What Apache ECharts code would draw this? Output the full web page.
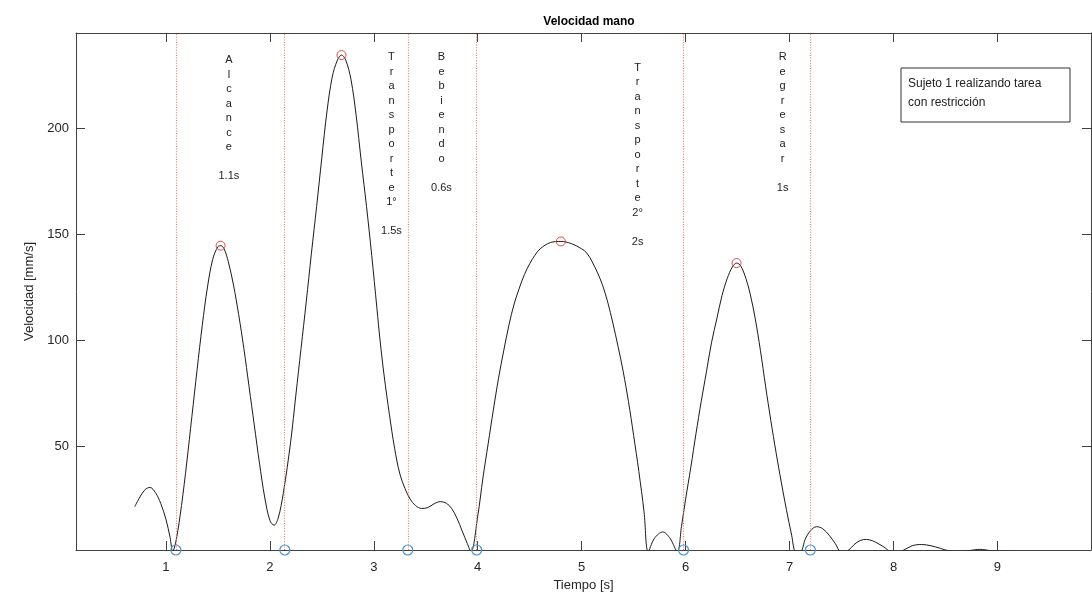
<!DOCTYPE html>
<html>
<head>
<meta charset="utf-8">
<script src="https://cdn.jsdelivr.net/npm/echarts@6/dist/echarts.min.js"></script>
<style>
  html, body { margin: 0; padding: 0; background: #fff; }
  #chart { width: 1092px; height: 597px; }
</style>
</head>
<body>
<div id="chart"></div>
<script>
// hand speed over time
const timeS = [
  0.70, 0.75, 0.80, 0.846, 0.90, 0.95, 1.00, 1.04, 1.065, 1.10,
  1.15, 1.20, 1.25, 1.30, 1.35, 1.40, 1.45, 1.50, 1.53, 1.56,
  1.60, 1.65, 1.70, 1.75, 1.80, 1.85, 1.90, 1.95, 2.00, 2.04,
  2.08, 2.13, 2.20, 2.25, 2.30, 2.35, 2.40, 2.45, 2.50, 2.55,
  2.60, 2.65, 2.69, 2.73, 2.78, 2.83, 2.88, 2.93, 2.98, 3.03,
  3.06, 3.10, 3.15, 3.20, 3.25, 3.30, 3.35, 3.40, 3.46, 3.52,
  3.58, 3.64, 3.70, 3.75, 3.80, 3.85, 3.90, 3.935, 4.00, 4.05,
  4.10, 4.15, 4.20, 4.25, 4.30, 4.35, 4.40, 4.45, 4.50, 4.55,
  4.60, 4.70, 4.80, 4.90, 5.00, 5.05, 5.10, 5.15, 5.20, 5.25,
  5.30, 5.35, 5.40, 5.45, 5.50, 5.55, 5.60, 5.64, 5.70, 5.78,
  5.85, 5.92, 5.96, 6.00, 6.05, 6.10, 6.15, 6.20, 6.25, 6.30,
  6.35, 6.40, 6.45, 6.49, 6.53, 6.58, 6.62, 6.67, 6.72, 6.77,
  6.82, 6.87, 6.92, 6.97, 7.02, 7.06, 7.11, 7.15, 7.20, 7.26,
  7.32, 7.38, 7.44, 7.49, 7.53, 7.57, 7.62, 7.68, 7.74, 7.80,
  7.86, 7.92, 7.96, 8.03, 8.10, 8.18, 8.27, 8.36, 8.45, 8.50,
  8.60, 8.70, 8.78, 8.83, 8.88, 8.95, 9.10, 9.30, 9.50
];
const speed = [
  21.4, 26, 29.5, 30.5, 28, 23, 15.5, 7, 0.3, 6,
  22, 42, 64, 86, 107, 125, 138, 144, 144.5, 143,
  137, 126, 112, 96, 78, 60, 42, 26, 15, 12.7,
  16, 28, 52, 74, 96, 118, 141, 163, 186, 208,
  224, 232, 234.4, 232, 223, 206, 184, 163, 140, 115,
  100, 83, 65, 49, 37, 30, 25, 22, 20.6, 21,
  22.8, 23.8, 23, 20.5, 16, 10, 4, 0.2, 17, 35,
  51, 67, 82, 95, 107, 117, 124.5, 131, 136, 140,
  143, 146, 146.5, 145.5, 143, 141, 137, 132, 126, 118,
  108, 97, 85, 71, 55, 38, 19, 0.2, 6.5, 9.5,
  6.5, 0.2, 12, 25, 40, 56, 71, 85, 99, 110,
  121, 129, 134.5, 136.3, 135, 129, 122, 110, 95, 78,
  62, 47, 33, 20, 8, 0.2, 0.5, 6, 10, 12,
  11, 8, 4, 0.2, 0, 1, 3.5, 5.5, 6, 5.3,
  3.8, 2, 0.5, 0, 1, 3, 3.6, 3, 1.8, 1,
  0.3, 0.5, 1.1, 1.3, 1.1, 0.6, 0.3, 0.2, 0.1
];

// peaks (red) and phase limits (blue + dotted lines)
const peakTimes = [1.526, 2.689, 4.80, 6.49];
const peakSpeeds = [144.5, 234.4, 146.5, 136.3];
const phaseTimes = [1.096, 2.144, 3.327, 3.99, 5.98, 7.20];
const phaseSpeeds = [1, 1, 1, 1, 1, 1];

const xTicks = [1, 2, 3, 4, 5, 6, 7, 8, 9];
const yTicks = [50, 100, 150, 200];

// phase texts, written letter by letter as in the figure
const phaseNames = ['Alcance', 'Transporte 1°', 'Bebiendo', 'Transporte 2°', 'Regresar'];
const phaseDurations = ['1.1s', '1.5s', '0.6s', '2s', '1s'];
const phaseTextX = [1.606, 3.17, 3.651, 5.538, 6.933];
const phaseTextY = [235.4, 236.9, 236.8, 231.9, 236.8];

const noteText = 'Sujeto 1 realizando tarea\ncon restricción';

const FONT = '"Liberation Sans", Arial, Helvetica, sans-serif';
const AXIS_COLOR = '#404040';

const chartDom = document.getElementById('chart');
const myChart = echarts.init(chartDom);

const curve = timeS.map((t, i) => [t, speed[i]]);
const peaks = peakTimes.map((t, i) => [t, peakSpeeds[i]]);
const limits = phaseTimes.map((t, i) => [t, phaseSpeeds[i]]);

const xBase = {
  type: 'value',
  min: 0.135,
  max: 9.9,
  splitLine: { show: false },
  axisLine: { show: true, onZero: false, lineStyle: { color: AXIS_COLOR, width: 1 } },
  axisTick: { show: true, inside: true, length: 9, customValues: xTicks, lineStyle: { color: AXIS_COLOR } },
};
const yBase = {
  type: 'value',
  min: 1,
  max: 244.8,
  splitLine: { show: false },
  axisLine: { show: true, onZero: false, lineStyle: { color: AXIS_COLOR, width: 1 } },
  axisTick: { show: true, inside: true, length: 9, customValues: yTicks, lineStyle: { color: AXIS_COLOR } },
};

const option = {
  animation: false,
  backgroundColor: '#fff',
  textStyle: { fontFamily: FONT },
  title: {
    text: 'Velocidad mano',
    left: 584,
    textAlign: 'center',
    top: 11,
    textStyle: { fontFamily: FONT, fontSize: 12, fontWeight: 'bold', color: '#000' }
  },
  grid: { left: 76, right: 1, top: 33, bottom: 47, containLabel: false },
  xAxis: [
    Object.assign({}, xBase, {
      position: 'bottom',
      name: 'Tiempo [s]',
      nameLocation: 'middle',
      nameGap: 24,
      nameTextStyle: { fontFamily: FONT, fontSize: 13, color: '#262626' },
      axisLabel: { show: true, customValues: xTicks, margin: 11, fontFamily: FONT, fontSize: 13, color: '#262626' }
    }),
    Object.assign({}, xBase, { position: 'top', axisLabel: { show: false } })
  ],
  yAxis: [
    Object.assign({}, yBase, {
      position: 'left',
      name: 'Velocidad [mm/s]',
      nameLocation: 'middle',
      nameGap: 40,
      nameTextStyle: { fontFamily: FONT, fontSize: 13, color: '#262626' },
      axisLabel: { show: true, customValues: yTicks, margin: 7, fontFamily: FONT, fontSize: 13, color: '#262626' }
    }),
    Object.assign({}, yBase, { position: 'right', axisLabel: { show: false } })
  ],
  series: [
    {
      type: 'line',
      data: curve,
      smooth: 0.35,
      showSymbol: false,
      clip: true,
      lineStyle: { color: '#1a1a1a', width: 1 },
      markLine: {
        silent: true,
        symbol: 'none',
        label: { show: false },
        lineStyle: { color: '#e87878', type: [1, 1.6], width: 1.2 },
        data: phaseTimes.map(t => ({ xAxis: t }))
      },
      z: 3
    },
    {
      type: 'scatter',
      data: peaks,
      symbol: 'circle',
      symbolSize: 9,
      clip: false,
      itemStyle: { color: 'rgba(0,0,0,0)', borderColor: '#e04848', borderWidth: 1, opacity: 1 },
      z: 5
    },
    {
      type: 'scatter',
      data: limits,
      symbol: 'circle',
      symbolSize: 10,
      clip: false,
      itemStyle: { color: 'rgba(0,0,0,0)', borderColor: '#4f93c6', borderWidth: 1.2, opacity: 1 },
      z: 5
    }
  ]
};

option && myChart.setOption(option);

// place the letter columns and the note box
const graphics = phaseNames.map((name, i) => {
  const words = name.split(' ');
  const lines = words[0].split('').concat(words.slice(1), ['', phaseDurations[i]]);
  const pos = myChart.convertToPixel({ xAxisIndex: 0, yAxisIndex: 0 }, [phaseTextX[i], phaseTextY[i]]);
  return {
    type: 'text',
    x: pos[0],
    y: pos[1],
    silent: true,
    style: {
      text: lines.join('\n'),
      align: 'center',
      verticalAlign: 'top',
      lineHeight: 14.5,
      font: '11px ' + FONT,
      fill: '#222'
    },
    z: 10
  };
});

graphics.push({
  type: 'group',
  x: 901,
  y: 68,
  children: [
    {
      type: 'rect',
      shape: { x: 0, y: 0, width: 169, height: 54 },
      style: { fill: '#fff', stroke: '#333', lineWidth: 1 }
    },
    {
      type: 'text',
      x: 7,
      y: 6,
      style: { text: noteText, font: '12px ' + FONT, lineHeight: 19, fill: '#222', verticalAlign: 'top' }
    }
  ],
  z: 10
});

myChart.setOption({ graphic: graphics });
</script>
</body>
</html>
